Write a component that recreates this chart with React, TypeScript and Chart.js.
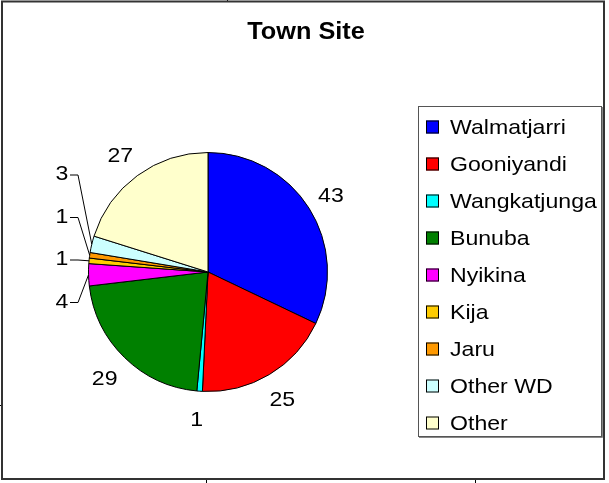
import React, { useEffect, useRef } from "react";
import { Chart, registerables } from "chart.js";

Chart.register(...registerables);

const chartTitle = "Town Site";
const categories = [
  "Walmatjarri",
  "Gooniyandi",
  "Wangkatjunga",
  "Bunuba",
  "Nyikina",
  "Kija",
  "Jaru",
  "Other WD",
  "Other",
];
const values = [43, 25, 1, 29, 4, 1, 1, 3, 27];
const colors = [
  "#0000FF",
  "#FF0000",
  "#00FFFF",
  "#008000",
  "#FF00FF",
  "#FFCC00",
  "#FF9900",
  "#CCFFFF",
  "#FFFFCC",
];

const FONT = '"Liberation Sans", Arial, sans-serif';

function drawText(
  ctx: CanvasRenderingContext2D,
  text: string,
  x: number,
  y: number,
  size: number,
  bold: boolean,
  align: CanvasTextAlign
) {
  ctx.save();
  ctx.font = `${bold ? "bold " : ""}${size}px ${FONT}`;
  ctx.textBaseline = "middle";
  ctx.textAlign = align;
  ctx.fillStyle = "#000";
  ctx.translate(x, y);
  ctx.scale(1.1, 1);
  ctx.fillText(text, 0, 0);
  ctx.restore();
}

const backgroundPlugin = {
  id: "bgFrame",
  beforeDraw(chart: any) {
    const ctx = chart.ctx as CanvasRenderingContext2D;
    ctx.save();
    ctx.fillStyle = "#fff";
    ctx.fillRect(0, 0, chart.width, chart.height);
    // spreadsheet grid fragments
    ctx.strokeStyle = "#000";
    ctx.lineWidth = 1;
    ctx.beginPath();
    ctx.moveTo(206.5, 479);
    ctx.lineTo(206.5, 483);
    ctx.moveTo(475.5, 479);
    ctx.lineTo(475.5, 483);
    ctx.moveTo(0, 405.5);
    ctx.lineTo(2, 405.5);
    ctx.moveTo(227.5, 0);
    ctx.lineTo(227.5, 1);
    ctx.stroke();
    // chart frame
    ctx.lineWidth = 2;
    ctx.strokeStyle = "#333";
    ctx.strokeRect(2, 1.5, 602, 477.5);
    ctx.restore();
  },
};

const decorPlugin = {
  id: "decor",
  afterDraw(chart: any) {
    const ctx = chart.ctx as CanvasRenderingContext2D;
    // title
    drawText(ctx, chartTitle, 306, 33, 23, true, "center");

    // legend box
    ctx.save();
    ctx.fillStyle = "#fff";
    ctx.fillRect(418, 106, 183, 330);
    ctx.strokeStyle = "#555";
    ctx.lineWidth = 1;
    ctx.strokeRect(418.5, 106.5, 183, 330);
    ctx.strokeStyle = "#888";
    ctx.beginPath();
    ctx.moveTo(602.5, 107);
    ctx.lineTo(602.5, 437.5);
    ctx.lineTo(419, 437.5);
    ctx.stroke();
    ctx.restore();

    const top = 127;
    const step = 37;
    categories.forEach((name, i) => {
      const cy = top + i * step;
      ctx.save();
      ctx.fillStyle = colors[i];
      ctx.fillRect(426, cy - 6.5, 13, 13);
      ctx.strokeStyle = "#000";
      ctx.lineWidth = 1;
      ctx.strokeRect(426.5, cy - 6, 12, 12);
      ctx.restore();
      drawText(ctx, name, 450, cy + 1, 21, false, "left");
    });

    // data labels
    const meta = chart.getDatasetMeta(0);
    const total = values.reduce((a, b) => a + b, 0);
    let stackIdx = 0;
    meta.data.forEach((arc: any, i: number) => {
      const p = arc.getProps(["x", "y", "startAngle", "endAngle", "outerRadius"], true);
      const mid = (p.startAngle + p.endAngle) / 2;
      const c = Math.cos(mid);
      const s = Math.sin(mid);
      const R = p.outerRadius;
      const txt = String(values[i]);
      const small = values[i] / total < 0.035 && c < -0.5;
      if (!small) {
        const d = R + 27;
        drawText(ctx, txt, p.x + c * d - 1, p.y + s * d + 2, 21, false, "center");
      } else {
        const lx = p.x - 146;
        const ly = p.y + 30 - stackIdx * 42.5;
        stackIdx++;
        drawText(ctx, txt, lx, ly, 21, false, "center");
        const ax = p.x + c * R;
        const ay = p.y + s * R;
        ctx.save();
        ctx.strokeStyle = "#000";
        ctx.lineWidth = 1;
        ctx.beginPath();
        ctx.moveTo(lx + 8, ly + 0.5);
        ctx.lineTo(lx + 16, ly + 0.5);
        ctx.lineTo(ax, ay);
        ctx.stroke();
        ctx.restore();
      }
    });
  },
};

export default function App() {
  const ref = useRef<HTMLCanvasElement | null>(null);
  useEffect(() => {
    if (!ref.current) return;
    const chart = new Chart(ref.current, {
      type: "pie",
      data: {
        labels: categories,
        datasets: [
          {
            data: values,
            backgroundColor: colors,
            borderColor: "#000",
            borderWidth: 1,
          },
        ],
      },
      options: {
        responsive: false,
        animation: false,
        events: [],
        layout: { padding: { left: 88, right: 281, top: 152, bottom: 91 } },
        plugins: {
          legend: { display: false },
          title: { display: false },
          tooltip: { enabled: false },
        },
      },
      plugins: [backgroundPlugin, decorPlugin],
    });
    return () => chart.destroy();
  }, []);
  return (
    <div style={{ position: "absolute", left: 0, top: 0, width: 609, height: 483 }}>
      <canvas ref={ref} width={609} height={483} style={{ display: "block" }} />
    </div>
  );
}
